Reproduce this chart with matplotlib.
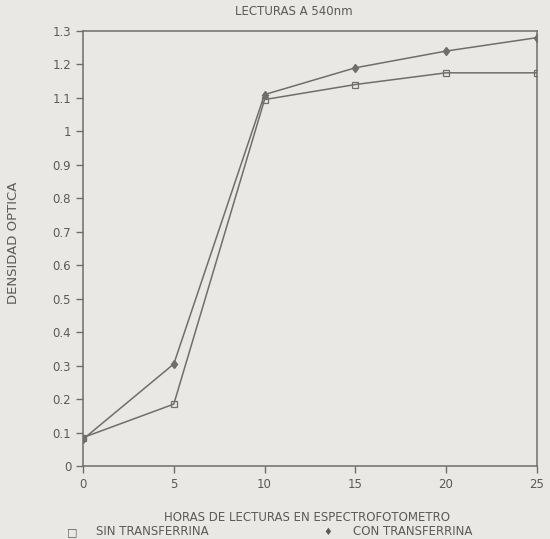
import matplotlib
matplotlib.use('Agg')
import matplotlib.pyplot as plt

# lecturas a 540 nm
horas = [0, 5, 10, 15, 20, 25]
sin_transferrina = [0.085, 0.185, 1.095, 1.14, 1.175, 1.175]
con_transferrina = [0.08, 0.305, 1.11, 1.19, 1.24, 1.28]

yticks = [0, 0.1, 0.2, 0.3, 0.4, 0.5, 0.6, 0.7, 0.8, 0.9, 1.0, 1.1, 1.2, 1.3]
ylabels = ['0', '0.1', '0.2', '0.3', '0.4', '0.5', '0.6', '0.7', '0.8', '0.9', '1', '1.1', '1.2', '1.3']
xticks = [0, 5, 10, 15, 20, 25]

bg = '#e9e8e4'
ink = '#6e6e6e'
txt = '#5a5a5a'

plt.rcParams['font.family'] = ['DejaVu Sans']

fig = plt.figure(figsize=(5.5, 5.39), dpi=100, facecolor=bg)
ax = fig.add_axes([0.151, 0.1354, 0.825, 0.8071], facecolor=bg)

ax.plot(horas, sin_transferrina, '-', color=ink, lw=1.1, marker='s', ms=5,
        mfc='none', mec=ink, mew=0.9)
ax.plot(horas, con_transferrina, '-', color=ink, lw=1.1, marker='d', ms=4.5,
        mfc=ink, mec=ink)

ax.set_xlim(0, 25)
ax.set_ylim(0, 1.3)
ax.set_xticks(xticks)
ax.set_xticklabels([str(v) for v in xticks])
ax.set_yticks(yticks)
ax.set_yticklabels(ylabels)
ax.tick_params(colors=ink, labelcolor=txt, labelsize=8.5, direction='out',
               length=5, width=1)
for s in ax.spines.values():
    s.set_color(ink)
    s.set_linewidth(1.1)

ax.set_ylabel('DENSIDAD OPTICA', color=txt, fontsize=9.5)
ax.yaxis.set_label_coords(-0.138, 0.513)
fig.text(0.535, 0.978, 'LECTURAS A 540nm', ha='center', va='center',
         color=txt, fontsize=8.5)
fig.text(0.558, 0.039, 'HORAS DE LECTURAS EN ESPECTROFOTOMETRO', ha='center',
         va='center', color=txt, fontsize=8.5)

# leyenda
fig.text(0.131, 0.013, '\u25a1', ha='center', va='center', color=txt, fontsize=8)
fig.text(0.1745, 0.013, 'SIN TRANSFERRINA', ha='left', va='center', color=txt, fontsize=8.5)
fig.text(0.596, 0.013, '\u2666', ha='center', va='center', color=txt, fontsize=7)
fig.text(0.642, 0.013, 'CON TRANSFERRINA', ha='left', va='center', color=txt, fontsize=8.5)

plt.savefig('out.png', dpi=100, facecolor=bg)
